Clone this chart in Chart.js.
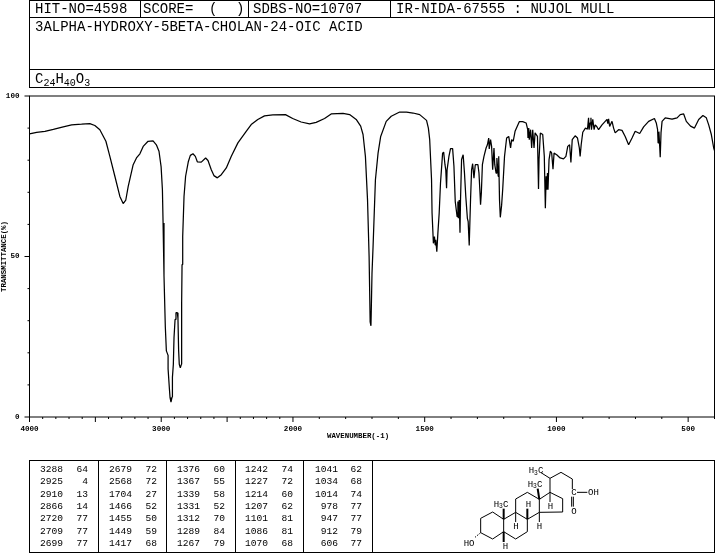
<!DOCTYPE html>
<html>
<head>
<meta charset="utf-8">
<title>IR spectrum</title>
<script src="https://cdn.jsdelivr.net/npm/chart.js@4/dist/chart.umd.min.js"></script>
<style>
    html, body { margin: 0; padding: 0; background: #fff; }
    #page { position: relative; width: 715px; height: 553px; overflow: hidden; font-family: "Liberation Mono", monospace; color: #000; }
    #spectrum { position: absolute; left: 0; top: 0; }
    .box { position: absolute; border: 1px solid #000; box-sizing: border-box; }
    .vline { position: absolute; width: 1px; background: #000; }
    .txt { position: absolute; white-space: pre; line-height: 1; }
    .head { font-size: 14px; }
    .cell { font-size: 9.6px; text-align: right; width: 30px; }
    .small { font-size: 7.4px; font-weight: bold; }
    sub { font-size: 10px; line-height: 0; vertical-align: -3px; }
    svg text { font-family: "Liberation Mono", monospace; font-size: 27px; }
</style>
</head>
<body>
<div id="page">
    <canvas id="spectrum" width="715" height="553"></canvas>

    <div class="box" style="left:29px;top:0;width:686px;height:18px"></div>
    <div class="box" style="left:29px;top:17px;width:686px;height:53px"></div>
    <div class="box" style="left:29px;top:69px;width:686px;height:19px"></div>
    <div class="vline" style="left:140px;top:0;height:18px"></div>
    <div class="vline" style="left:248px;top:0;height:18px"></div>
    <div class="vline" style="left:390px;top:0;height:18px"></div>
    <div class="txt head" style="left:35px;top:2px">HIT-NO=4598</div>
    <div class="txt head" style="left:143px;top:2px">SCORE=</div>
    <div class="txt head" style="left:209px;top:2px">(</div>
    <div class="txt head" style="left:236px;top:2px">)</div>
    <div class="txt head" style="left:253px;top:2px">SDBS-NO=10707</div>
    <div class="txt head" style="left:396px;top:2px">IR-NIDA-67555 : NUJOL MULL</div>
    <div class="txt head" style="left:35px;top:20px">3ALPHA-HYDROXY-5BETA-CHOLAN-24-OIC ACID</div>
    <div class="txt head" style="left:35px;top:72px">C<sub>24</sub>H<sub>40</sub>O<sub>3</sub></div>

    <div class="txt small" style="left:327px;top:433px">WAVENUMBER(-1)</div>

    <div class="box" style="left:29px;top:460px;width:344px;height:93px"></div>
    <div class="box" style="left:372px;top:460px;width:343px;height:93px"></div>
    <div id="peakTable"></div>

    <svg style="position:absolute;left:370px;top:450px" width="345" height="103" viewBox="0 0 1035 309">
        <g fill="none" stroke="#000" stroke-width="3">
            <polyline points="401,208 368,186 332,205 332,248 368,267 401,245 401,208 437,187 472,208 472,245 437,267 401,245"/>
            <polyline points="437,187 437,147 472,127 508,148 508,187 472,208"/>
            <polyline points="508,148 540,127 578,146 578,186 508,187"/>
            <polyline points="540,127 540,85 573,67 607,87 607,117"/>
            <line x1="540" y1="85" x2="513" y2="68"/>
            <line x1="621" y1="127" x2="652" y2="127"/>
            <line x1="605" y1="140" x2="605" y2="170"/>
            <line x1="610" y1="140" x2="610" y2="170"/>
            <line x1="437" y1="187" x2="437" y2="216"/>
            <line x1="508" y1="187" x2="508" y2="216"/>
            <line x1="540" y1="127" x2="540" y2="156"/>
            <line x1="332" y1="248" x2="315" y2="262" stroke-dasharray="5 4"/>
            <line x1="508" y1="148" x2="503" y2="116" stroke-width="6"/>
            <line x1="401" y1="208" x2="401" y2="176" stroke-width="6"/>
            <line x1="472" y1="208" x2="472" y2="176" stroke-width="6"/>
            <line x1="401" y1="245" x2="401" y2="276" stroke-width="6"/>
        </g>
        <text x="476" y="70">H<tspan font-size="19" dy="4">3</tspan><tspan dy="-4">C</tspan></text>
        <text x="473" y="111">H<tspan font-size="19" dy="4">3</tspan><tspan dy="-4">C</tspan></text>
        <text x="371" y="171">H<tspan font-size="19" dy="4">3</tspan><tspan dy="-4">C</tspan></text>
        <text x="467" y="172">H</text>
        <text x="430" y="237">H</text>
        <text x="500" y="237">H</text>
        <text x="533" y="177">H</text>
        <text x="398" y="297">H</text>
        <text x="281" y="289">HO</text>
        <text x="604" y="136">C</text>
        <text x="654" y="136">OH</text>
        <text x="604" y="191">O</text>
    </svg>
</div>

<script>
// spectrum
const waves = [
    4000, 3946, 3883, 3819, 3744, 3680, 3605, 3542, 3504, 3466, 3420, 3390, 3352, 3314, 3289, 3269, 3251, 3213, 3188, 3162,
    3137, 3100, 3062, 3037, 3017, 3001, 2991, 2986, 2979, 2969, 2961, 2948, 2948, 2938, 2933, 2926, 2918, 2915, 2908, 2903,
    2895, 2888, 2878, 2873, 2868, 2863, 2855, 2847, 2845, 2842, 2837, 2827, 2815, 2794, 2779, 2759, 2741, 2726, 2696, 2663,
    2645, 2620, 2600, 2574, 2544, 2506, 2468, 2418, 2355, 2317, 2267, 2216, 2153, 2057, 2002, 1969, 1937, 1912, 1880, 1855,
    1810, 1785, 1760, 1743, 1734, 1725, 1717, 1711, 1707, 1704, 1703, 1700, 1696, 1687, 1677, 1667, 1646, 1627, 1595, 1569,
    1544, 1519, 1493, 1486, 1481, 1474, 1472, 1467, 1463, 1460, 1458, 1454, 1450, 1445, 1440, 1432, 1428, 1423, 1420, 1417,
    1415, 1408, 1402, 1394, 1389, 1384, 1377, 1374, 1372, 1369, 1366, 1364, 1360, 1354, 1349, 1344, 1338, 1335, 1331, 1326,
    1322, 1318, 1313, 1308, 1298, 1294, 1290, 1288, 1285, 1281, 1275, 1267, 1262, 1257, 1255, 1250, 1246, 1242, 1237, 1234,
    1229, 1226, 1221, 1219, 1216, 1213, 1208, 1204, 1197, 1189, 1181, 1174, 1170, 1164, 1157, 1141, 1128, 1115, 1109, 1108,
    1105, 1103, 1098, 1094, 1090, 1085, 1081, 1072, 1068, 1066, 1061, 1052, 1046, 1042, 1039, 1037, 1034, 1032, 1028, 1023,
    1018, 1013, 1009, 999, 986, 973, 964, 957, 950, 945, 940, 929, 920, 913, 910, 906, 900, 890, 882, 878,
    876, 872, 869, 867, 862, 857, 853, 847, 840, 827, 808, 805, 802, 798, 789, 783, 777, 764, 751, 739,
    726, 713, 701, 684, 669, 650, 628, 621, 616, 614, 611, 608, 606, 603, 599, 587, 561, 542, 530, 517,
    507, 491, 476, 460, 444, 431, 422, 412, 403, 400
];
const transmittance = [
    88.2, 88.7, 89, 89.6, 90.4, 91, 91.2, 91.4, 90.8, 89.5, 85.9, 81.2, 75, 68.7, 66.5, 67.6, 71.8, 78.6, 80.7, 82,
    84.3, 85.9, 86, 84.8, 82.8, 78, 70.8, 60.4, 44, 28.1, 20.6, 19.2, 15, 8.8, 6, 4.6, 6.2, 12.4, 16.4, 24.7,
    30.4, 32.5, 32.5, 30.7, 20.8, 16.4, 15.3, 16.4, 35.4, 47.5, 56.2, 68.7, 75, 79.6, 81.5, 82, 81.2, 79.5, 79.4, 80.7,
    79.9, 77, 75.2, 74.5, 75.5, 77.6, 81.2, 85.4, 89, 91.1, 92.7, 93.8, 94.1, 94.2, 93, 91.9, 91.3, 91.8, 93, 94.4,
    94.6, 94.2, 92.7, 90.6, 88, 81.2, 67.7, 50, 29.6, 28.4, 32.2, 44.7, 53, 73.9, 82.2, 87.4, 92.1, 93.7, 95, 95,
    94.7, 94.2, 92.4, 90, 86.4, 73.9, 63.5, 54.1, 56.2, 53.6, 55.2, 51.5, 57.2, 63.5, 72.9, 82.2, 82.5, 78.6, 77, 71.3,
    77, 81.2, 83.6, 83.6, 78.1, 67.1, 62.4, 67.1, 61.9, 67.6, 57.4, 67.6, 80.2, 81.7, 76, 68.7, 61.9, 60.9, 53.4, 67.6,
    77, 78.9, 74.4, 78.6, 78.6, 76, 69.7, 66.1, 69.7, 78.6, 81.2, 83.8, 84.8, 86.9, 83.5, 86.4, 84.3, 77, 83.8, 78.6,
    76, 80.7, 75, 81.2, 67.6, 62.2, 66, 70.8, 81.2, 86.9, 87.4, 83.8, 86.4, 85.9, 89, 92, 92, 91.6, 89.5, 86.9,
    90, 86.4, 89.5, 83.8, 89.5, 83.8, 88.5, 87.4, 71, 80.2, 88.5, 88, 81.2, 65, 75, 70.8, 76, 70.8, 80.2, 82.8,
    82.2, 77.2, 82.2, 81.7, 80.7, 80.4, 81.2, 84.3, 84.8, 79.3, 86.4, 87.6, 86.9, 83.8, 81.2, 84.8, 88.7, 90, 89.7, 93.2,
    89.5, 91.6, 93.2, 89.5, 92.7, 89.5, 91, 90.5, 89.5, 91, 92.7, 91.4, 92.9, 90.5, 92.1, 90, 88.5, 89.5, 89.3, 87.4,
    84.8, 86.9, 89, 88.3, 90.4, 92.1, 93, 91.6, 89.5, 85.4, 88.9, 84.3, 80.9, 88.5, 92.1, 93.2, 92.8, 93.2, 94.2, 94.4,
    92.1, 90.6, 90, 92.7, 93.9, 93.2, 91, 88, 83.8, 83
];

// peak table
const peakWaves = [
    3288, 2925, 2910, 2866, 2720, 2709, 2699,
    2679, 2568, 1704, 1466, 1455, 1449, 1417,
    1376, 1367, 1339, 1331, 1312, 1289, 1267,
    1242, 1227, 1214, 1207, 1101, 1086, 1070,
    1041, 1034, 1014, 978, 947, 912, 606
];
const peakValues = [
    64, 4, 13, 14, 77, 77, 77,
    72, 72, 27, 52, 50, 59, 68,
    60, 55, 58, 52, 70, 84, 79,
    74, 72, 60, 62, 81, 81, 68,
    62, 68, 74, 77, 77, 79, 77
];

// axis labels
const labelledWaves = [4000, 3000, 2000, 1500, 1000, 500];
const labelledTrans = [0, 50, 100];

// the wavenumber axis changes scale at 2000: 4000-2000 takes half the room per unit
function axisPos(w) {
    return w >= 2000 ? (4000 - w) / 2 : 1000 + (2000 - w);
}

function axisWave(pos) {
    return pos <= 1000 ? 4000 - pos * 2 : 2000 - (pos - 1000);
}

const tickWaves = [];
for (let w = 4000; w >= 400; w -= 100) tickWaves.push(w);

// peak table cells
const tableEl = document.getElementById('peakTable');
const colNum = [33, 102, 170, 238, 308];
const colVal = [58, 127, 195, 263, 332];
const rowTop = [465, 477, 490, 502, 514, 527, 539];
peakWaves.forEach((w, i) => {
    const col = Math.floor(i / 7);
    const row = i % 7;
    tableEl.innerHTML += `<div class="txt cell" style="left:${colNum[col]}px;top:${rowTop[row]}px">${w}</div>`;
    tableEl.innerHTML += `<div class="txt cell" style="left:${colVal[col]}px;top:${rowTop[row]}px">${peakValues[i]}</div>`;
});
// column dividers
[98, 166, 235, 303].forEach((x) => {
    tableEl.innerHTML += `<div class="vline" style="left:${x}px;top:460px;height:93px"></div>`;
});

// frame and the two tick lengths
const framePlugin = {
    id: 'frame',
    afterDraw(chart) {
        const { ctx, chartArea, scales } = chart;
        ctx.save();
        ctx.strokeStyle = '#000';
        ctx.lineWidth = 1;
        ctx.strokeRect(chartArea.left, chartArea.top, chartArea.width, chartArea.height);
        ctx.beginPath();
        tickWaves.forEach((w) => {
            const x = scales.x.getPixelForValue(axisPos(w));
            const len = w % 500 === 0 ? 5 : 2;
            ctx.moveTo(x, chartArea.bottom);
            ctx.lineTo(x, chartArea.bottom + len);
        });
        for (let t = 0; t <= 100; t += 10) {
            const y = scales.y.getPixelForValue(t);
            const len = t % 50 === 0 ? 5 : 2;
            ctx.moveTo(chartArea.left, y);
            ctx.lineTo(chartArea.left - len, y);
        }
        ctx.stroke();
        ctx.restore();
    }
};

new Chart(document.getElementById('spectrum').getContext('2d'), {
    type: 'line',
    data: {
        datasets: [{
            data: waves.map((w, i) => ({ x: axisPos(w), y: transmittance[i] })),
            borderColor: '#000',
            borderWidth: 1.25,
            borderJoinStyle: 'bevel',
            pointRadius: 0,
            tension: 0,
            fill: false
        }]
    },
    options: {
        responsive: false,
        animation: false,
        layout: { padding: { top: 96, right: 0.5, left: 0, bottom: 0 } },
        plugins: { legend: { display: false }, tooltip: { enabled: false } },
        scales: {
            x: {
                type: 'linear',
                min: 0,
                max: axisPos(400),
                afterBuildTicks(scale) {
                    scale.ticks = tickWaves.map((w) => ({ value: axisPos(w) }));
                },
                afterFit(scale) {
                    scale.height = 136;
                    scale.paddingLeft = 0;
                    scale.paddingRight = 0;
                },
                grid: { display: false, drawTicks: false },
                border: { display: false },
                ticks: {
                    autoSkip: false,
                    maxRotation: 0,
                    padding: 8,
                    color: '#000',
                    font: { family: 'Liberation Mono', size: 7.6, weight: 'bold' },
                    callback(value) {
                        const w = Math.round(axisWave(value));
                        return labelledWaves.includes(w) ? String(w) : '';
                    }
                }
            },
            y: {
                min: 0,
                max: 100,
                afterFit(scale) {
                    scale.width = 29.5;
                    scale.paddingTop = 0;
                    scale.paddingBottom = 0;
                },
                grid: { display: false, drawTicks: false },
                border: { display: false },
                title: {
                    display: true,
                    text: 'TRANSMITTANCE(%)',
                    color: '#000',
                    padding: 0,
                    font: { family: 'Liberation Mono', size: 7.4, weight: 'bold' }
                },
                ticks: {
                    stepSize: 10,
                    padding: 10,
                    color: '#000',
                    font: { family: 'Liberation Mono', size: 7.6, weight: 'bold' },
                    callback(value) {
                        return labelledTrans.includes(value) ? String(value) : '';
                    }
                }
            }
        }
    },
    plugins: [framePlugin]
});
</script>
</body>
</html>
